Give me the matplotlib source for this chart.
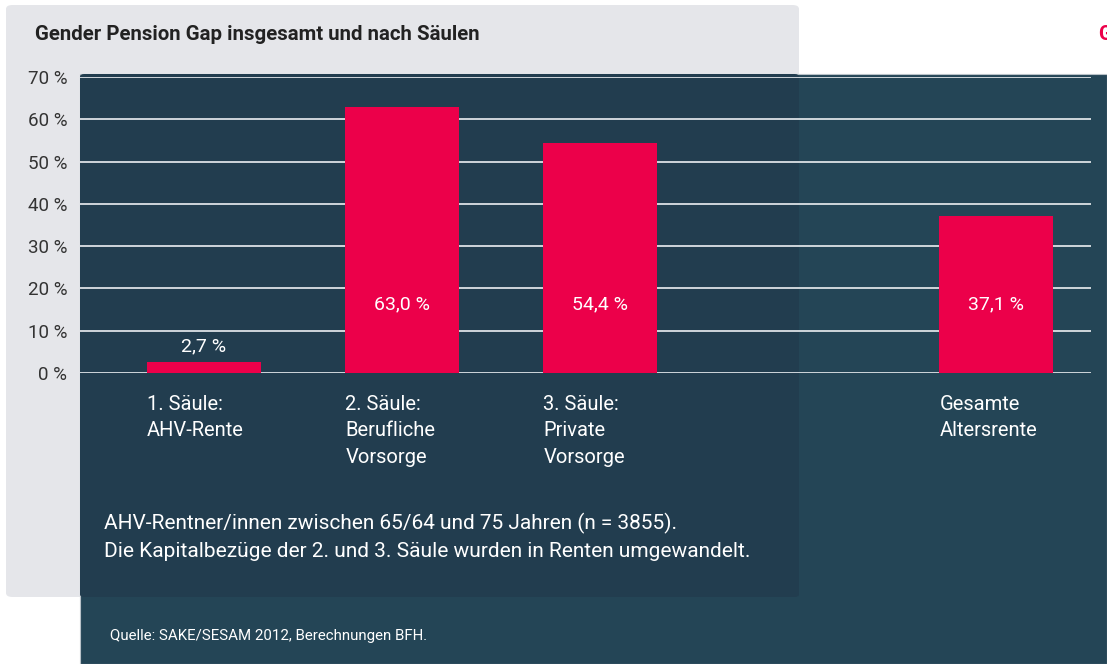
import matplotlib.pyplot as plt
from matplotlib.patches import FancyBboxPatch, Rectangle

# Daten
kategorien = ["1. Säule:\nAHV-Rente", "2. Säule:\nBerufliche\nVorsorge",
              "3. Säule:\nPrivate\nVorsorge", "Gesamte\nAltersrente"]
positionen = [0, 1, 2, 4]
werte = [2.7, 63.0, 54.4, 37.1]
wert_labels = ["2,7 %", "63,0 %", "54,4 %", "37,1 %"]
y_ticks = [0, 10, 20, 30, 40, 50, 60, 70]
y_tick_labels = ["0 %", "10 %", "20 %", "30 %", "40 %", "50 %", "60 %", "70 %"]

titel = "Gender Pension Gap insgesamt und nach Säulen"
anmerkung = ("AHV-Rentner/innen zwischen 65/64 und 75 Jahren (n = 3855).\n"
             "Die Kapitalbezüge der 2. und 3. Säule wurden in Renten umgewandelt.")
quelle = "Quelle: SAKE/SESAM 2012, Berechnungen BFH."

ROT = "#ec004a"
DUNKEL = "#244556"
DUNKEL2 = "#223d4f"
GRAU = "#e5e6ea"

plt.rcParams['font.family'] = ['Roboto', 'DejaVu Sans']

W, H = 1107, 664
fig = plt.figure(figsize=(W / 100, H / 100), dpi=100)
fig.patch.set_facecolor("white")

def fx(px):
    return px / W

def fy(py):
    return 1 - py / H

# Hintergrundflächen (unter den Achsen)
grau = FancyBboxPatch((fx(6), fy(597)), fx(793), 592 / H,
                      boxstyle="round,pad=0,rounding_size=0.006",
                      transform=fig.transFigure, facecolor=GRAU, edgecolor="none", zorder=-3)
fig.patches.append(grau)
dunkel = Rectangle((fx(80), 0), 1 - fx(80), fy(74), transform=fig.transFigure,
                   facecolor=DUNKEL, edgecolor="#b9c2c8", linewidth=0.8, zorder=-2)
fig.patches.append(dunkel)
overlap = FancyBboxPatch((fx(80), fy(597)), fx(719), (597 - 74) / H,
                         boxstyle="round,pad=0,rounding_size=0.004",
                         transform=fig.transFigure, facecolor=DUNKEL2, edgecolor="none", zorder=-1)
fig.patches.append(overlap)

ax = fig.add_axes([fx(80), fy(373), fx(1091) - fx(80), (373 - 77) / H])
ax.set_facecolor("none")
ax.set_xlim(-0.624, 4.48)
ax.set_ylim(0, 70)

for y in y_ticks:
    ax.axhline(y, color="#cfd6db", linewidth=1.4, zorder=1)

ax.bar(positionen, werte, width=0.575, color=ROT, zorder=2)

for x, v, lab in zip(positionen, werte, wert_labels):
    if v < 10:
        ax.text(x, v + 1.5, lab, ha="center", va="bottom", color="white", fontsize=14)
    else:
        ax.text(x, 16.3, lab, ha="center", va="center", color="white", fontsize=14)

for x, lab in zip(positionen, kategorien):
    ax.text(x - 0.285, -5.2, lab, ha="left", va="top", color="white",
            fontsize=14.5, linespacing=1.5, clip_on=False)

ax.set_yticks(y_ticks)
ax.set_yticklabels(y_tick_labels, fontsize=13.5, color="#333333")
ax.tick_params(axis="y", length=0, pad=9)
ax.set_xticks([])
for s in ax.spines.values():
    s.set_visible(False)

fig.text(fx(35), fy(34), titel, ha="left", va="center", fontsize=14.7,
         fontweight="bold", color="#222222")
fig.text(fx(1098), fy(34), "G", ha="left", va="center", fontsize=14.5,
         fontweight="bold", color=ROT)
fig.text(fx(104), fy(537), anmerkung, ha="left", va="center", color="white",
         fontsize=15, linespacing=1.55)
fig.text(fx(110), fy(636), quelle, ha="left", va="center", color="white", fontsize=10.8)

fig.savefig("out.png", dpi=100)
